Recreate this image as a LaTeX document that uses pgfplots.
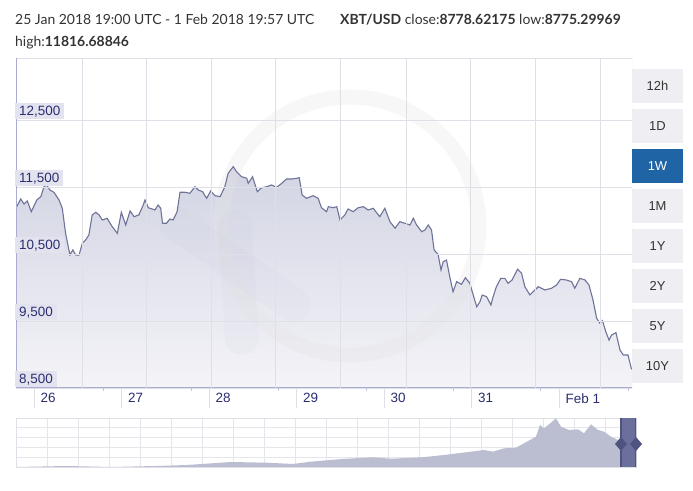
\documentclass[border=0pt]{standalone}
\usepackage{pgfplots}
\pgfplotsset{compat=1.18}
\usepackage{pgfplotstable}
\usepackage{fontspec}
\setmainfont{Liberation Sans}
\newfontfamily\hdr{Lato}

\definecolor{navy}{HTML}{2B2E6E}
\definecolor{linec}{HTML}{6E7399}
\definecolor{gridc}{HTML}{DFDFE7}
\definecolor{axisc}{HTML}{A9ABD0}
\definecolor{lblbg}{HTML}{E3E3EF}
\definecolor{btnbg}{HTML}{EFEFF3}
\definecolor{btnsel}{HTML}{1F64A5}
\definecolor{navfill}{HTML}{BBBDD0}
\definecolor{handlec}{HTML}{6B6F9B}
\definecolor{gripc}{HTML}{4E5380}
\definecolor{filltop}{HTML}{D2D4E3}
\definecolor{fillbot}{HTML}{F4F4F8}
\definecolor{hdrc}{HTML}{333333}

% hours after 25 Jan 2018 19:00 UTC, XBT/USD
\pgfplotstableread{
h v
0.2 11206
1.3 11321
2.2 11246
3.1 11291
4.2 11131
5.7 11306
6.8 11355
7.7 11504
8.4 11530
9.3 11455
10.4 11421
11.8 11306
12.7 11182
13.6 10809
14.8 10485
15.6 10560
16.4 10485
17.3 10485
18.2 10660
19.1 10709
20.0 10784
20.9 11082
21.9 11122
22.8 11082
23.7 11007
25.0 11033
26.4 10907
27.8 10809
28.9 11122
30.1 10933
31.3 11142
32.4 11057
33.7 11082
34.9 11231
35.4 11306
36.3 11191
38.1 11157
39.0 11231
39.7 11182
40.2 10958
41.3 10958
42.2 11022
43.1 11007
44.2 11131
45.0 11421
46.4 11421
47.7 11406
49.1 11504
50.0 11455
51.2 11430
52.3 11331
53.4 11440
54.6 11370
56.0 11355
57.3 11504
58.2 11704
59.6 11803
60.5 11728
61.9 11654
63.3 11630
63.7 11555
64.9 11654
66.2 11430
67.4 11490
68.8 11504
70.1 11530
71.5 11495
72.9 11555
74.2 11619
75.6 11619
77.0 11630
77.7 11639
78.5 11380
79.7 11331
81.5 11370
82.9 11331
83.8 11191
85.2 11131
85.7 11206
87.0 11191
88.0 11206
88.9 11007
90.2 11082
91.1 11172
92.5 11131
93.9 11191
95.3 11206
96.6 11157
98.0 11182
99.8 11057
101.2 11182
102.6 10982
104.0 10884
105.3 10982
106.7 10958
108.1 10933
109.0 11033
109.9 10933
111.3 10833
112.2 10858
113.1 10933
114.0 10858
114.7 10560
115.8 10495
116.6 10261
117.2 10385
118.1 10410
119.0 10161
119.9 9937
120.9 10087
122.2 10048
123.3 10146
124.5 10063
125.7 9839
126.4 9713
127.3 9788
127.9 9888
129.1 9863
130.3 9739
130.9 9863
131.8 10012
133.0 10137
134.1 10137
135.0 10063
136.1 10112
137.6 10272
138.7 10212
139.6 10012
141.0 9888
141.9 9937
143.3 10012
145.1 9963
146.9 9988
148.3 10037
149.4 10122
151.0 10112
152.4 10087
153.3 9988
154.7 10137
156.1 10112
157.2 10037
158.3 9813
159.3 9540
160.2 9466
160.9 9504
161.8 9340
162.7 9216
163.4 9291
164.6 9325
165.7 9067
166.6 8993
167.9 8993
168.8 8794
169.0 8779
}\btc

% overview (navigator) series
\pgfplotstableread{
x v
0 0
51 400
95 0
140 400
171 800
215 2000
251 1720
277 1200
295 2130
326 3200
357 3880
375 3320
406 3880
428 4800
455 6130
468 6800
477 6130
488 7470
500 7720
511 10130
520 12130
524 16800
528 15470
535 17720
540 19470
545 16130
553 14800
562 15070
568 13470
575 17070
582 14800
588 14130
595 12130
602 10800
606 11470
620 10130
}\overview

\begin{document}
\begin{tikzpicture}
\fill[white] (0,0) rectangle (693bp,491bp);
\path[use as bounding box] (0,0) rectangle (693bp,491bp);

% header
\node[anchor=base west, inner sep=0, text=hdrc, font=\hdr\fontsize{14}{16}\selectfont] at (15bp,466bp)
  {25 Jan 2018 19:00 UTC - 1 Feb 2018 19:57 UTC};
\node[anchor=base west, inner sep=0, text=hdrc, font=\hdr\fontsize{14}{16}\selectfont] at (340bp,466bp)
  {\textbf{XBT/USD} close:\textbf{8778.62175} low:\textbf{8775.29969}};
\node[anchor=base west, inner sep=0, text=hdrc, font=\hdr\fontsize{14}{16}\selectfont] at (15bp,444bp)
  {high:\textbf{11816.68846}};

\begin{axis}[
  at={(16bp,103bp)}, anchor=south west,
  scale only axis, width=616bp, height=330bp,
  xmin=0, xmax=169, ymin=8500, ymax=13425,
  axis on top,
  axis x line*=bottom, axis y line*=left,
  axis line style={axisc, line width=1bp, -},
  ytick={8500,9500,10500,11500,12500},
  scaled y ticks=false,
  ymajorgrids, grid style={gridc, line width=0.8bp},
  ytick style={draw=none},
  yticklabel style={anchor=south west, xshift=19bp, yshift=0.5bp, fill=lblbg, text=navy,
    inner xsep=4bp, inner ysep=2.5bp, font=\fontsize{13.5}{13.5}\selectfont},
  xtick={5,29,53,77,101,125,149},
  xticklabels={26,27,28,29,30,31,Feb 1},
  minor xtick={24,48,72,96,120,144,168},
  tick align=outside,
  major tick length=20bp, minor tick length=3bp,
  xtick style={gridc, line width=0.8bp},
  minor x tick style={color=axisc!70},
  xticklabel style={anchor=north west, text=navy, xshift=3bp, yshift=18bp,
    font=\fontsize{13.5}{13.5}\selectfont},
  extra x ticks={18.1,35.9,53.5,71.3,89.1,107.2,124.8,142.6,160.4},
  extra x tick labels={},
  extra x tick style={grid=major, major tick length=0pt},
  /pgf/number format/.cd, 1000 sep={,}, assume math mode=true,
]
\addplot[draw=none, top color=filltop, bottom color=fillbot] table {\btc} \closedcycle;
% faint logo watermark
\draw[line width=15bp, color=gray!20, opacity=0.3] (axis cs:91.6,10918) circle[radius=129bp];
\draw[line width=34bp, color=navy!30, opacity=0.07, line cap=round]
  (axis cs:44,10950) -- (axis cs:76,9750);
\draw[line width=34bp, color=navy!30, opacity=0.07, line cap=round]
  (axis cs:62,9250) -- (axis cs:60,10900);
\addplot[linec, line width=1.1bp] table {\btc};
\draw[gridc, line width=0.8bp] (rel axis cs:0,1) -- (rel axis cs:1,1) -- (rel axis cs:1,0);
\end{axis}

% period buttons
\foreach \lab [count=\i] in {12h,1D,1W,1M,1Y,2Y,5Y,10Y}{
  \pgfmathsetmacro\yc{491-86-40*(\i-1)}
  \ifnum\i=3
    \node[fill=btnsel, text=white, minimum width=51bp, minimum height=34bp, inner sep=0,
      font=\fontsize{13}{13}\selectfont] at (657.5bp,\yc bp) {\lab};
  \else
    \node[fill=btnbg, text=hdrc, minimum width=51bp, minimum height=34bp, inner sep=0,
      font=\fontsize{13}{13}\selectfont] at (657.5bp,\yc bp) {\lab};
  \fi
}

% navigator
\begin{axis}[
  at={(16bp,24bp)}, anchor=south west,
  scale only axis, width=620bp, height=49bp,
  xmin=0, xmax=620, ymin=0, ymax=19600,
  axis line style={gridc, line width=0.8bp},
  xtick={31,62,...,600}, ytick={4000,8000,12000,16000},
  scaled y ticks=false, scaled x ticks=false,
  xticklabels={}, yticklabels={},
  major tick length=0pt,
  grid=major, grid style={gridc!80, line width=0.6bp},
]
\addplot[draw=none, fill=navfill] table {\overview} \closedcycle;
\fill[handlec] (axis cs:605,0) rectangle (axis cs:620,19600);
\draw[gripc, line width=1.2bp] (axis cs:605,0) -- (axis cs:605,19600);
\draw[gripc, line width=1.2bp] (axis cs:620,0) -- (axis cs:620,19600);
\draw[gripc, line width=0.8bp] (rel axis cs:0,0) -- (rel axis cs:1,0);
\end{axis}
\fill[gripc] (615bp,47bp) -- (621bp,54bp) -- (627bp,47bp) -- (621bp,40bp) -- cycle;
\fill[gripc] (630bp,47bp) -- (636bp,54bp) -- (642bp,47bp) -- (636bp,40bp) -- cycle;
\end{tikzpicture}
\end{document}
